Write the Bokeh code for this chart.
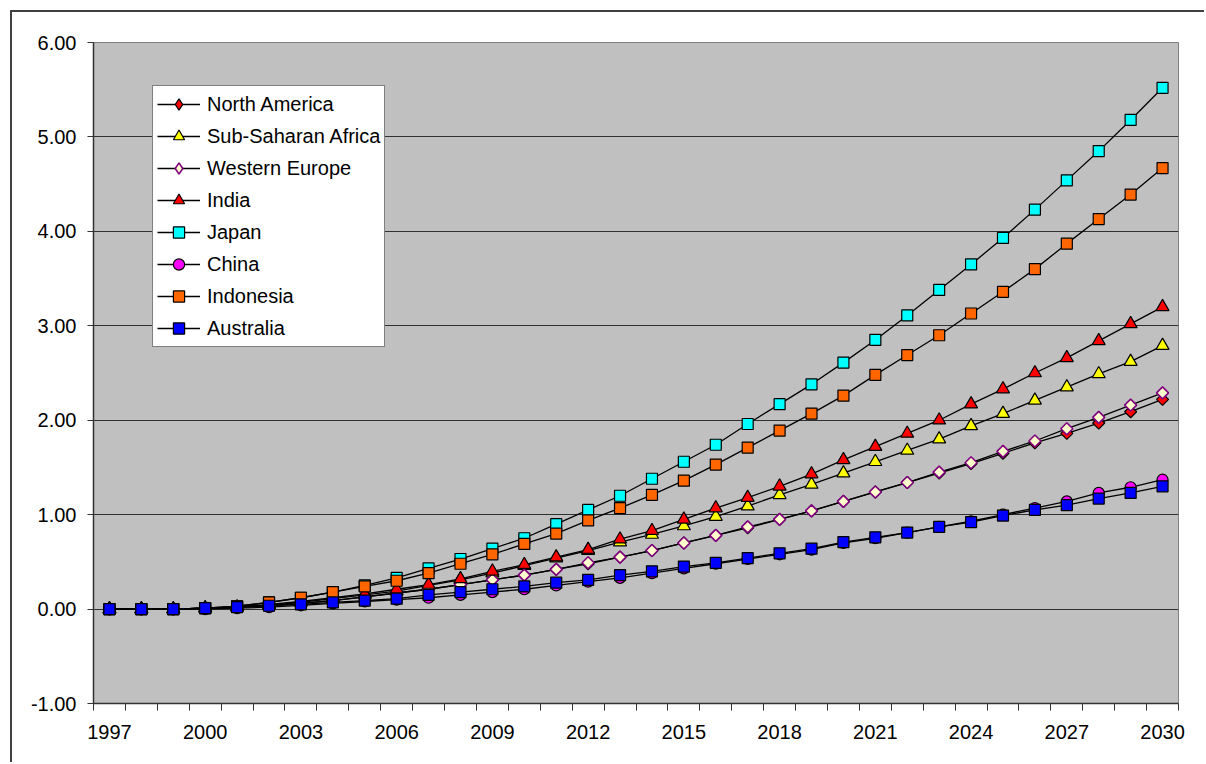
import math
from bokeh.plotting import figure
from bokeh.models import (Range1d, FixedTicker, NumeralTickFormatter, Legend,
                          LegendItem)
from bokeh.embed import file_html
from bokeh.resources import INLINE

years = list(range(1997, 2031))
x_tick_labels = [1997, 2000, 2003, 2006, 2009, 2012, 2015, 2018, 2021, 2024, 2027, 2030]
y_ticks = [-1, 0, 1, 2, 3, 4, 5, 6]

north_america = [0, 0, 0, .01, .02, .04, .06, .09, .13, .17,
                 .21, .26, .31, .36, .42, .48, .55, .62, .70, .78,
                 .86, .95, 1.04, 1.14, 1.24, 1.34, 1.44, 1.54, 1.65, 1.76,
                 1.86, 1.97, 2.09, 2.22]
sub_saharan = [0, 0, 0, .01, .02, .04, .07, .11, .15, .19,
               .25, .31, .38, .46, .54, .62, .71, .79, .88, .98,
               1.09, 1.21, 1.32, 1.44, 1.56, 1.68, 1.80, 1.94, 2.07, 2.21,
               2.35, 2.49, 2.62, 2.79]
western_europe = [0, 0, 0, .01, .02, .04, .06, .09, .13, .17,
                  .21, .26, .31, .36, .42, .49, .55, .62, .70, .78,
                  .87, .95, 1.04, 1.14, 1.24, 1.34, 1.45, 1.55, 1.67, 1.78,
                  1.91, 2.03, 2.16, 2.29]
india = [0, 0, 0, .01, .02, .05, .08, .12, .16, .21,
         .26, .32, .40, .47, .55, .63, .74, .83, .95, 1.07,
         1.18, 1.30, 1.43, 1.58, 1.72, 1.86, 2.00, 2.17, 2.33, 2.50,
         2.66, 2.84, 3.02, 3.20]
japan = [0, 0, 0, .01, .03, .07, .12, .18, .25, .33,
         .43, .53, .64, .75, .90, 1.05, 1.20, 1.38, 1.56, 1.74,
         1.96, 2.17, 2.38, 2.61, 2.85, 3.11, 3.38, 3.65, 3.93, 4.23,
         4.54, 4.85, 5.18, 5.52]
china = [0, 0, 0, 0, .01, .02, .04, .06, .08, .10,
         .12, .15, .18, .21, .25, .29, .33, .38, .43, .48,
         .53, .58, .63, .70, .75, .81, .87, .93, 1.00, 1.07,
         1.14, 1.23, 1.29, 1.37]
indonesia = [0, 0, 0, .01, .03, .07, .12, .18, .24, .30,
             .38, .48, .58, .69, .80, .94, 1.07, 1.21, 1.36, 1.53,
             1.71, 1.89, 2.07, 2.26, 2.48, 2.69, 2.90, 3.13, 3.36, 3.60,
             3.87, 4.13, 4.39, 4.67]
australia = [0, 0, 0, .01, .02, .035, .05, .07, .09, .11,
             .15, .18, .21, .24, .28, .31, .36, .40, .45, .49,
             .54, .59, .64, .71, .76, .81, .87, .92, .99, 1.05,
             1.10, 1.17, 1.23, 1.30]

series = [
    ("North America", north_america, "diamond", "#FF0000", "#000000"),
    ("Sub-Saharan Africa", sub_saharan, "triangle", "#FFFF00", "#000000"),
    ("Western Europe", western_europe, "diamond", "#FFFFCC", "#800080"),
    ("India", india, "triangle", "#FF0000", "#000000"),
    ("Japan", japan, "square", "#00FFFF", "#000000"),
    ("China", china, "circle", "#FF00FF", "#000000"),
    ("Indonesia", indonesia, "square", "#FF6600", "#000000"),
    ("Australia", australia, "square", "#0000FF", "#000000"),
]

FONT = "Liberation Sans"
NAN = float("nan")

p = figure(width=1194, height=752, output_backend="svg", toolbar_location=None,
           x_range=Range1d(1996.5, 2030.5), y_range=Range1d(-1, 6),
           min_border_left=81, min_border_right=28, min_border_top=30,
           min_border_bottom=61,
           margin=(10, 0, 0, 10),
           styles={"border-left": "2px solid #404040",
                   "border-top": "2px solid #404040"})
p.background_fill_color = "#C0C0C0"
p.border_fill_color = "white"
p.outline_line_color = "#808080"
p.outline_line_width = 1

p.xaxis.ticker = FixedTicker(ticks=x_tick_labels,
                             minor_ticks=[y - 0.5 for y in years] + [years[-1] + 0.5])
p.xaxis.major_tick_out = 0
p.xaxis.major_tick_in = 0
p.xaxis.minor_tick_out = 7
p.xaxis.minor_tick_in = 0
p.xaxis.minor_tick_line_color = "#333333"
p.xaxis.axis_line_color = "#333333"
p.xaxis.axis_line_width = 1.5
p.xaxis.major_label_standoff = 14
p.xaxis.major_label_text_font = FONT
p.xaxis.major_label_text_font_size = "20px"
p.xaxis.major_label_text_color = "black"

p.yaxis.ticker = FixedTicker(ticks=y_ticks, minor_ticks=[])
p.yaxis.formatter = NumeralTickFormatter(format="0.00")
p.yaxis.major_tick_out = 6
p.yaxis.major_tick_in = 0
p.yaxis.major_tick_line_color = "#333333"
p.yaxis.axis_line_color = "#333333"
p.yaxis.axis_line_width = 1.5
p.yaxis.major_label_standoff = 11
p.yaxis.major_label_text_font = FONT
p.yaxis.major_label_text_font_size = "20px"
p.yaxis.major_label_text_color = "black"

p.xgrid.visible = False
p.ygrid.ticker = FixedTicker(ticks=y_ticks)
p.ygrid.grid_line_color = "#303030"
p.ygrid.grid_line_width = 1

items = []
for name, vals, marker, fill, edge in series:
    lw = 1.6 if edge != "#000000" else 1.2
    r_line = p.line(years, vals, line_color="black", line_width=1.3)
    if marker == "diamond":
        r_m = p.scatter(years, vals, marker="square", size=8.5, angle=math.pi / 4,
                        fill_color=fill, line_color=edge, line_width=lw)
        # legend-only glyph (rotation is not applied in legends); no drawable point
        r_leg = p.scatter([NAN], [NAN], marker="diamond", size=13,
                          fill_color=fill, line_color=edge, line_width=lw)
        legend_renderers = [r_line, r_leg]
    elif marker == "triangle":
        r_m = p.scatter(years, vals, marker="triangle", size=13,
                        fill_color=fill, line_color=edge, line_width=lw)
        legend_renderers = [r_line, r_m]
    elif marker == "circle":
        r_m = p.scatter(years, vals, marker="circle", size=11,
                        fill_color=fill, line_color=edge, line_width=lw)
        legend_renderers = [r_line, r_m]
    else:
        r_m = p.scatter(years, vals, marker="square", size=11,
                        fill_color=fill, line_color=edge, line_width=lw)
        legend_renderers = [r_line, r_m]
    items.append(LegendItem(label=name, renderers=legend_renderers))

legend = Legend(items=items, location=(59, 356), orientation="vertical",
                label_text_font=FONT, label_text_font_size="20px",
                label_text_color="black", label_height=28, glyph_height=28,
                glyph_width=43, label_standoff=7, spacing=4, padding=4,
                margin=0, border_line_color="black", border_line_width=1,
                background_fill_color="white", background_fill_alpha=1)
p.add_layout(legend, "center")

open("out.html", "w").write(file_html(p, INLINE))
